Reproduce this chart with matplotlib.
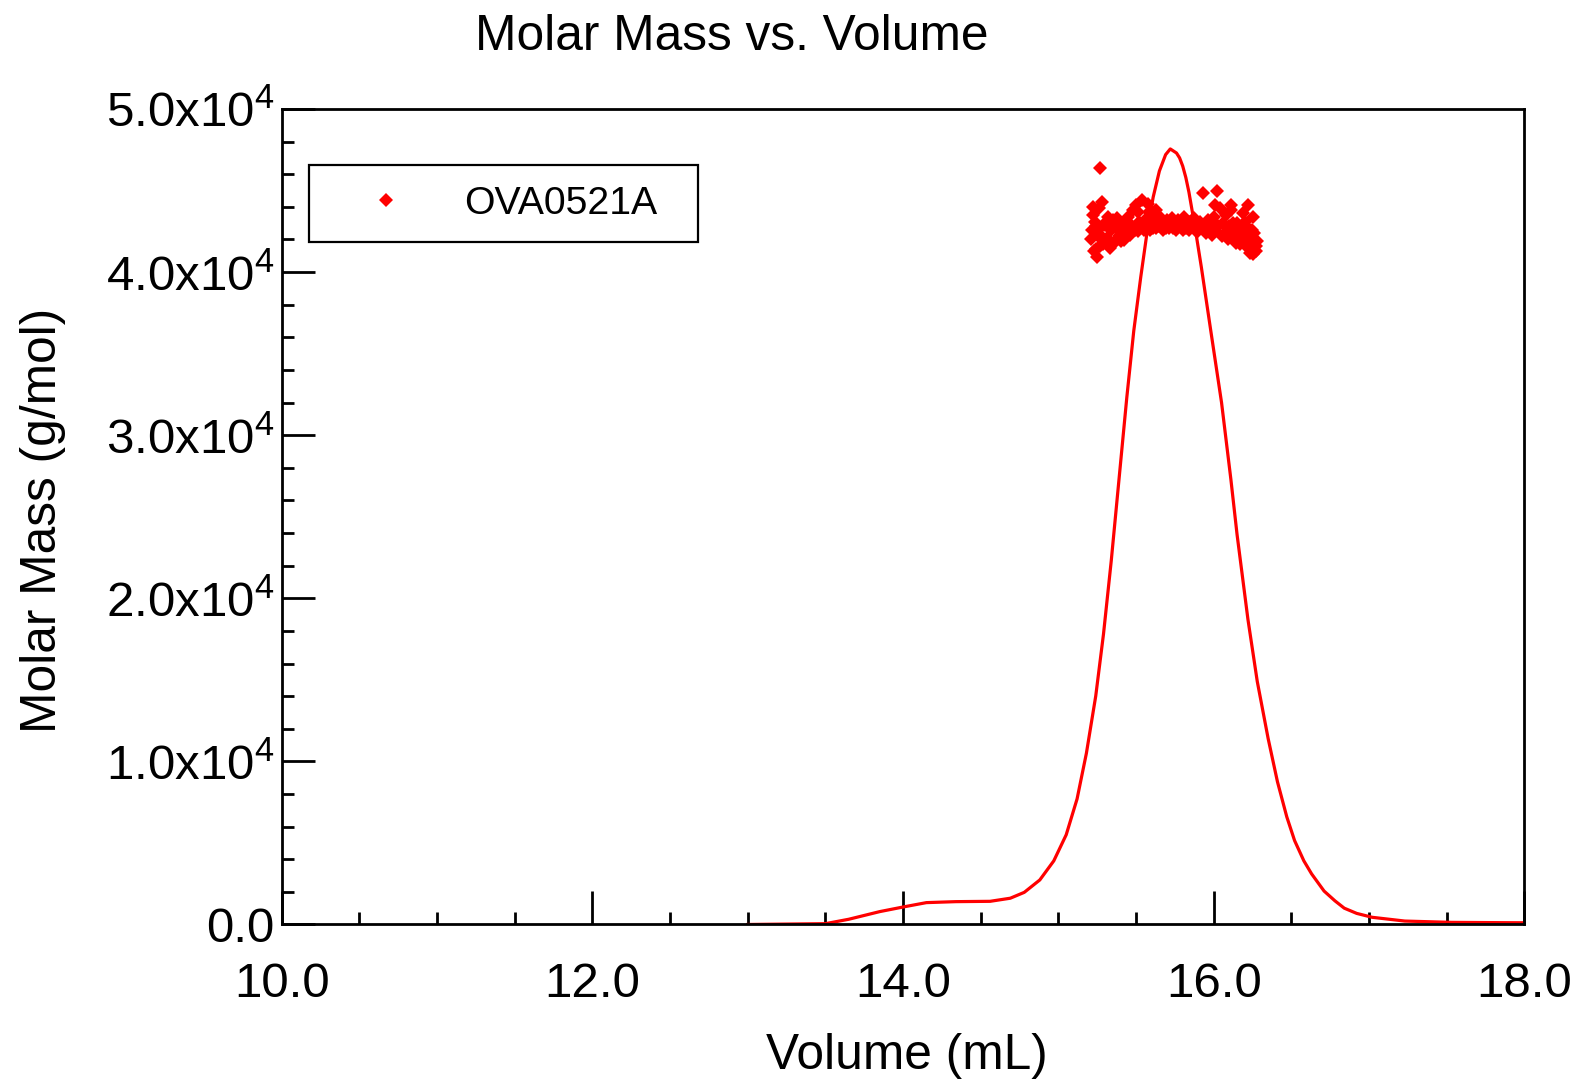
import matplotlib
matplotlib.use("Agg")
import matplotlib.pyplot as plt
from matplotlib.ticker import MultipleLocator, FuncFormatter

plt.rcParams['font.family'] = ['Liberation Sans', 'DejaVu Sans']
plt.rcParams['mathtext.fontset'] = 'custom'
plt.rcParams['mathtext.rm'] = 'Liberation Sans'
plt.rcParams['mathtext.default'] = 'regular'

# detector trace, drawn on the molar mass axis
trace_volume = [13.00, 13.50, 13.65, 13.85, 14.01, 14.15, 14.34, 14.56, 14.69, 14.78,
                14.88, 14.97, 15.05, 15.12, 15.18, 15.24, 15.29, 15.34, 15.39, 15.44,
                15.485, 15.53, 15.57, 15.61, 15.65, 15.69, 15.72, 15.76, 15.78, 15.80,
                15.82, 15.84, 15.88, 15.92, 15.98, 16.05, 16.11, 16.15, 16.22, 16.28,
                16.35, 16.41, 16.47, 16.52, 16.58, 16.63, 16.71, 16.78, 16.84, 16.92,
                17.02, 17.23, 17.53, 17.88, 18.00]
trace_signal = [0, 50, 320, 790, 1090, 1340, 1400, 1420, 1610, 1970,
                2730, 3900, 5500, 7700, 10500, 14000, 17800, 22300, 27300, 32300,
                36400, 39700, 42400, 44600, 46200, 47200, 47550, 47300, 47000, 46500,
                45800, 44900, 42700, 40300, 36450, 32000, 27300, 23900, 18700, 14900,
                11400, 8750, 6600, 5150, 3900, 3100, 2050, 1450, 1000, 680,
                440, 210, 130, 110, 105]

# molar mass points
mass_volume = [15.21, 15.22, 15.23, 15.24, 15.25, 15.26, 15.27, 15.28, 15.29, 15.30,
               15.31, 15.32, 15.33, 15.34, 15.35, 15.36, 15.37, 15.38, 15.39, 15.40,
               15.41, 15.42, 15.43, 15.44, 15.45, 15.46, 15.47, 15.48, 15.49, 15.50,
               15.51, 15.52, 15.53, 15.54, 15.55, 15.56, 15.57, 15.58, 15.59, 15.60,
               15.61, 15.62, 15.63, 15.64, 15.65, 15.66, 15.67, 15.68, 15.69, 15.70,
               15.71, 15.72, 15.73, 15.74, 15.75, 15.76, 15.77, 15.78, 15.79, 15.80,
               15.81, 15.82, 15.83, 15.84, 15.85, 15.86, 15.87, 15.88, 15.89, 15.90,
               15.91, 15.92, 15.93, 15.94, 15.95, 15.96, 15.97, 15.98, 15.99, 16.00,
               16.01, 16.02, 16.03, 16.04, 16.05, 16.06, 16.07, 16.08, 16.09, 16.10,
               16.11, 16.12, 16.13, 16.14, 16.15, 16.16, 16.17, 16.18, 16.19, 16.20,
               16.21, 16.22, 16.23, 16.24, 16.25, 16.26, 16.27, 16.28,
               15.27, 15.93, 16.02, 16.01, 16.11, 16.22, 16.25, 15.215, 15.225, 15.235,
               15.245, 15.255, 15.265, 15.285, 15.515, 15.575, 15.625, 16.125, 16.185, 16.205,
               16.235, 16.245, 16.255, 16.265, 16.275]
molar_mass = [42000, 43500, 41300, 42800, 40900, 43900, 42300, 44300, 41700, 42900,
              42100, 43400, 41500, 42600, 43200, 41800, 42700, 43300, 42200, 41900,
              42800, 41950, 43000, 42500, 43400, 42300, 42900, 43800, 42600, 44100,
              42500, 43100, 42800, 44400, 42600, 43200, 42900, 43700, 42600, 43100,
              42700, 43400, 42700, 43000, 42800, 43300, 42600, 43100, 42700, 43200,
              42700, 43000, 43300, 42700, 42900, 42600, 43200, 42800, 43000, 42600,
              43400, 42700, 43000, 42600, 43100, 42800, 43300, 42600, 42900, 42500,
              43100, 42700, 42900, 42800, 42400, 43200, 42600, 42900, 42300, 43400,
              42500, 42800, 42800, 43900, 42200, 43000, 42400, 43500, 42000, 42800,
              43800, 42600, 42300, 41800, 43000, 42400, 41700, 42600, 41900, 43100,
              42100, 42700, 41500, 42000, 41300, 42400, 41600, 41900,
              46400, 44850, 45000, 44100, 44100, 44100, 43400, 42600, 44000, 43100,
              41400, 42200, 41600, 42900, 43700, 44200, 43800, 43000, 43600, 41600,
              41200, 42600, 41100, 41900, 41300]

sample_name = 'OVA0521A'


def mass_label(v, pos):
    if v == 0:
        return '0.0'
    return '%.1fx10$^{4}$' % (v / 1e4)


fig = plt.figure(figsize=(15.75, 10.8), dpi=100)
ax = fig.add_axes([0.1789, 0.1440, 0.7890, 0.7551])

ax.plot(trace_volume, trace_signal, color='red', lw=2.3, zorder=2)
pts, = ax.plot(mass_volume, molar_mass, ls='none', marker='D', ms=7, mew=0,
               color='red', zorder=3, label=sample_name)

ax.set_xlim(10, 18)
ax.set_ylim(0, 50000)
ax.xaxis.set_major_locator(MultipleLocator(2))
ax.xaxis.set_minor_locator(MultipleLocator(0.5))
ax.yaxis.set_major_locator(MultipleLocator(10000))
ax.yaxis.set_minor_locator(MultipleLocator(2000))
ax.xaxis.set_major_formatter(FuncFormatter(lambda v, p: '%.1f' % v))
ax.yaxis.set_major_formatter(FuncFormatter(mass_label))

ax.tick_params(which='both', direction='in', top=False, right=False, width=2.0, colors='black')
ax.tick_params(which='major', length=24)
ax.tick_params(which='minor', length=8.5)
ax.tick_params(axis='x', which='major', labelsize=35.5, pad=27)
ax.tick_params(axis='y', which='major', labelsize=35.5, pad=5)
for s in ax.spines.values():
    s.set_linewidth(2.0)

ax.set_xlabel('Volume (mL)', fontsize=35.7)
ax.xaxis.set_label_coords(0.503, -0.133)
ax.set_ylabel('Molar Mass (g/mol)', fontsize=35.7)
ax.yaxis.set_label_coords(-0.174, 0.495)

fig.text(732 / 1575, 1 - 37 / 1080, 'Molar Mass vs. Volume', fontsize=35.7,
         ha='center', va='center')

leg = ax.legend(handles=[pts], loc='upper left',
                bbox_to_anchor=(309 / 1575, 1 - 242 / 1080, 389 / 1575, 77 / 1080),
                bbox_transform=fig.transFigure, mode='expand', borderaxespad=0,
                fontsize=28.3, frameon=True, fancybox=False, shadow=False,
                edgecolor='black', framealpha=1, borderpad=0.525,
                handlelength=2.89, handletextpad=0.53, markerscale=1.0)
leg.get_frame().set_linewidth(1.6)

fig.savefig('out.png', dpi=100)
